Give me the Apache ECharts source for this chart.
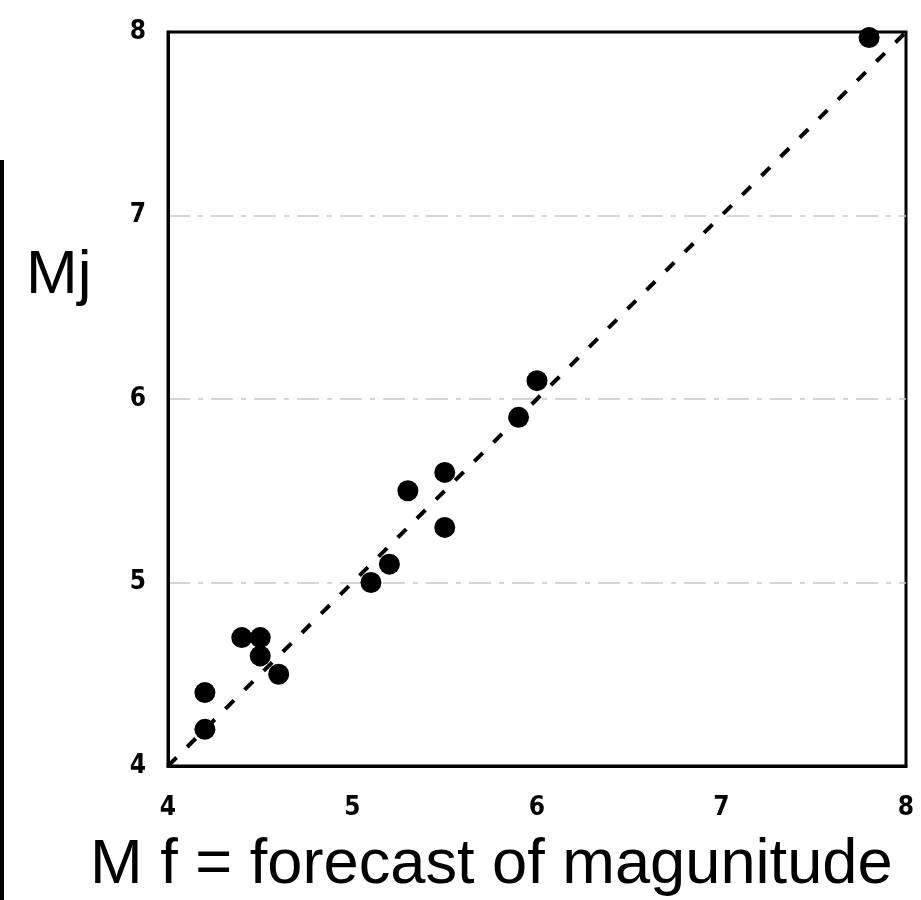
<!DOCTYPE html>
<html>
<head>
<meta charset="utf-8">
<script src="https://cdn.jsdelivr.net/npm/echarts@6/dist/echarts.min.js"></script>
<style>html,body{margin:0;padding:0;background:#fff;}#chart{width:921px;height:900px;}</style>
</head>
<body>
<div id="chart"></div>
<script>
// Data
var forecastMf = [4.2, 4.2, 4.4, 4.5, 4.5, 4.6, 5.1, 5.2, 5.3, 5.5, 5.5, 5.9, 6.0, 7.8];
var observedMj = [4.2, 4.4, 4.7, 4.7, 4.6, 4.5, 5.0, 5.1, 5.5, 5.6, 5.3, 5.9, 6.1, 7.97];
var diagonalX = [4, 8];
var diagonalY = [4, 8];
var xTicks = [4, 5, 6, 7, 8];
var yTicks = [4, 5, 6, 7, 8];
var xTitle = 'M f = forecast of magunitude';
var yTitle = 'Mj';

var points = forecastMf.map(function (x, i) { return [x, observedMj[i]]; });
var diag = diagonalX.map(function (x, i) { return [x, diagonalY[i]]; });

var chart = echarts.init(document.getElementById('chart'), null, {renderer: 'canvas'});
var labelFont = {
  color: '#000', fontSize: 26, fontWeight: 'bold',
  fontFamily: '"Liberation Sans Narrow", "DejaVu Sans Condensed", "Liberation Sans", sans-serif'
};
chart.setOption({
  animation: false,
  backgroundColor: '#fff',
  title: [
    {text: yTitle, left: 26, top: 245, padding: 0,
     textStyle: {fontSize: 62, fontWeight: 'normal', color: '#000', fontFamily: '"Liberation Sans", Arial, sans-serif'}},
    {text: xTitle, left: 90, top: 834, padding: 0,
     textStyle: {fontSize: 63.2, fontWeight: 'normal', color: '#000', fontFamily: '"Liberation Sans", Arial, sans-serif'}}
  ],
  grid: {left: 168, top: 32, right: 15, bottom: 134, show: true, borderColor: '#000', borderWidth: 3, containLabel: false},
  xAxis: {
    type: 'value', min: xTicks[0], max: xTicks[xTicks.length - 1], interval: 1,
    axisLine: {show: true, lineStyle: {color: '#000', width: 3}},
    axisTick: {show: false},
    splitLine: {show: false},
    axisLabel: Object.assign({margin: 29}, labelFont)
  },
  yAxis: {
    type: 'value', min: yTicks[0], max: yTicks[yTicks.length - 1], interval: 1,
    axisLine: {show: true, lineStyle: {color: '#000', width: 3}},
    axisTick: {show: false},
    splitLine: {show: true, showMinLine: false, showMaxLine: false,
                lineStyle: {color: '#c8c8c8', width: 1.5, type: [22, 8, 5, 8]}},
    axisLabel: Object.assign({margin: 22}, labelFont)
  },
  graphic: [
    {type: 'rect', shape: {x: 0, y: 160, width: 4, height: 740}, style: {fill: '#000'}}
  ],
  series: [
    {
      type: 'line', data: diag, symbol: 'none', silent: true, z: 3,
      lineStyle: {color: '#000', width: 4, type: [12, 15]}
    },
    {
      type: 'scatter', data: points, symbol: 'circle', symbolSize: 21, clip: false, z: 4,
      itemStyle: {color: '#000', opacity: 1}
    }
  ]
});
</script>
</body>
</html>
